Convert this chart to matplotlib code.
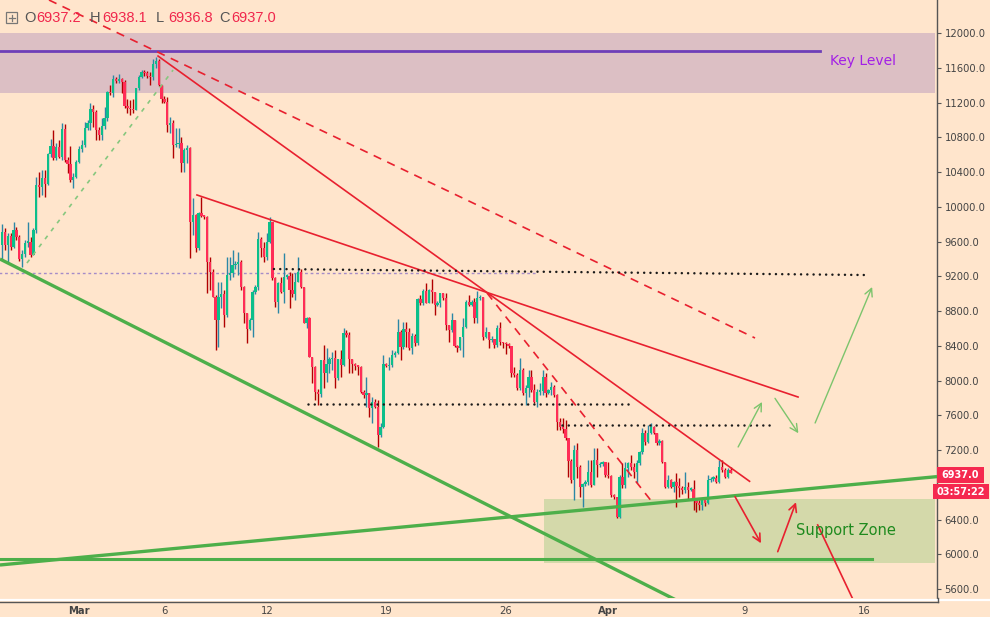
import matplotlib
matplotlib.use('Agg')
import matplotlib.pyplot as plt
import numpy as np
from matplotlib.patches import Rectangle
from matplotlib.lines import Line2D

# ---------------- data (4h candles, BTC, from Feb 24 12:00) ----------------
first_open = 9560
closes = [
 9713, 9560, 9663, 9540, 9732, 9655, 9395, 9456, 9586, 9598, 9444, 9732, 10250, 10231, 10327, 10262,
 10607, 10699, 10557, 10684, 10569, 10891, 10538, 10492, 10308, 10346, 10519, 10661, 10711, 10902,
 10960, 11121, 11094, 10883, 10826, 10930, 11018, 11324, 11305, 11470, 11450, 11470, 11440, 11160,
 11133, 11120, 11110, 11363, 11497, 11555, 11535, 11510, 11490, 11643, 11680, 11401, 11236,
 11210, 10941, 10968, 10711, 10722, 10730, 10500, 10653, 10672, 9828, 9905, 9521, 9924, 9893, 9885,
 9368, 9253, 8965, 8696, 8957, 9000, 8754, 9214, 9233, 9329, 9340, 9368, 9080, 8773, 8589, 8696,
 9022, 9072, 9625, 9521, 9425, 9598, 9820, 9176, 8907, 9118, 9022, 9195, 9203, 9041, 9000, 9138,
 9253, 9080, 8658, 8715, 8274, 8159,
 7871, 7850, 8236, 8082, 8190, 8244, 8260, 8025, 8244, 8180, 8543, 8524, 8244, 8190, 8167, 8159,
 7871, 7833, 7855, 7680, 7756, 7700, 7373, 7468, 8190, 8167, 8180, 8294, 8320, 8562, 8382, 8589,
 8562, 8370, 8512, 8428, 8934, 8888, 9030, 8896, 9042, 9022, 8869, 8896, 9003, 8946, 8639, 8581,
 8696, 8397, 8370, 8497, 8620, 8907,
 8869, 8907, 8716, 8946, 8960, 8505, 8562, 8466, 8480, 8409, 8601, 8447, 8428, 8420, 8397, 8090,
 8063, 7910, 8121, 7852, 7910, 8044, 7891, 7756, 7870, 7880, 8036, 7852, 7891, 7929, 7833, 7527,
 7469, 7440, 7335, 7074, 6855, 7200, 7009, 6778, 6809, 6836, 6951, 6798, 7085, 7028, 7040, 7066,
 6913, 6901, 6682, 6663, 6433, 6893, 6798, 6989, 7047, 7009, 6951, 7047, 7181, 7392, 7296, 7392,
 7469, 7400, 7277, 7310, 7066, 6778, 6855, 6778, 6836, 6790, 6760, 6740, 6770, 6745, 6750, 6625,
 6587, 6567, 6625, 6587, 6855, 6870, 6880, 6836, 7009, 6970, 6893, 6970, 6937]
highs = [
 9800, 9751, 9694, 9694, 9828, 9770, 9680, 9502, 9617, 9820, 9655, 9751, 10346, 10404, 10423, 10423,
 10615, 10776, 10883, 10730, 10768, 10968, 10950, 10577, 10700, 10385, 10538, 10699, 10768, 10979,
 11000, 11190, 11170, 11113, 10922, 11018, 11152, 11330, 11401, 11516, 11490, 11530, 11480, 11460,
 11236, 11228, 11236, 11365, 11516, 11574, 11580, 11560, 11555, 11700, 11720, 11700, 11401,
 11270, 11267, 11037, 11000, 10902, 10902, 10806, 10672, 10711, 10684, 10097, 9920, 9940, 10116, 9910,
 9890, 9425, 9290, 8980, 9138, 9138, 9041, 9425, 9425, 9502, 9380, 9483, 9385, 9088, 8773, 8715,
 9041, 9100, 9713, 9655, 9598, 9694, 9885, 9828, 9195, 9138, 9195, 9470, 9230, 9253, 9233, 9233,
 9425, 9290, 9080, 8735, 8735, 8275,
 8170, 7900, 8240, 8408, 8370, 8275, 8332, 8350, 8250, 8350, 8600, 8581, 8562, 8250, 8200, 8180,
 8167, 7890, 8044, 7860, 7814, 7790, 7775, 7507, 8294, 8198, 8274, 8350, 8340, 8704, 8581, 8677,
 8677, 8600, 8543, 8540, 8946, 8984, 9050, 9118, 9050, 9164, 9022, 8920, 9010, 9010, 9003, 8639,
 8773, 8696, 8410, 8505, 8716, 8930,
 8984, 8930, 8946, 9034, 8990, 8960, 8620, 8562, 8510, 8480, 8640, 8677, 8447, 8447, 8428, 8397,
 8160, 8082, 8255, 8140, 7950, 8121, 8121, 7960, 7900, 7967, 8121, 8082, 7900, 7987, 7950, 7850,
 7565, 7565, 7546, 7335, 7100, 7258, 7277, 7030, 6820, 6860, 7085, 7085, 7220, 7220, 7060, 7080,
 7066, 7066, 6913, 6690, 6663, 6913, 7047, 7066, 7066, 7143, 7047, 7085, 7190, 7450, 7430, 7488,
 7507, 7480, 7400, 7330, 7316, 7066, 6913, 6870, 6850, 6932, 6874, 6790, 6951, 6836, 6780, 6855,
 6644, 6625, 6644, 6630, 6913, 6890, 6900, 6913, 7085, 7085, 6995, 6989, 7009]
lows = [
 9405, 9502, 9349, 9502, 9521, 9617, 9380, 9310, 9425, 9540, 9425, 9444, 9700, 10116, 10135, 10116,
 10250, 10577, 10538, 10538, 10557, 10538, 10520, 10385, 10289, 10212, 10327, 10500, 10630, 10684,
 10880, 10883, 10922, 10768, 10768, 10768, 10900, 10990, 11286, 11260, 11430, 11420, 11305, 11133,
 11075, 11056, 11075, 11113, 11350, 11480, 11500, 11480, 11401, 11460, 11600, 11390, 11190,
 11190, 10864, 10845, 10557, 10692, 10672, 10404, 10404, 10500, 9406, 9675, 9480, 9500, 9886, 9860,
 9003, 9041, 8965, 8351, 8390, 8830, 8620, 8735, 9157, 9195, 9290, 9214, 9041, 8658, 8428, 8581,
 8504, 9000, 9041, 9425, 9368, 9387, 9579, 9157, 8850, 8773, 9003, 8888, 9170, 8830, 8965, 8926,
 9130, 9060, 8658, 8600, 8274, 7967,
 7775, 7720, 7810, 7910, 7987, 8082, 8120, 7910, 8006, 8044, 8170, 8504, 8082, 8082, 8120, 8063,
 7860, 7795, 7700, 7584, 7507, 7680, 7238, 7353, 7450, 8160, 8120, 8160, 8270, 8310, 8236, 8360,
 8390, 8350, 8310, 8400, 8410, 8869, 8869, 8888, 8888, 8888, 8754, 8860, 8850, 8930, 8581, 8447,
 8562, 8390, 8332, 8350, 8275, 8600,
 8860, 8860, 8658, 8658, 8930, 8466, 8485, 8370, 8440, 8370, 8390, 8409, 8370, 8310, 8380, 8044,
 8044, 7891, 7891, 7830, 7718, 7814, 7872, 7737, 7700, 7833, 7833, 7814, 7840, 7833, 7814, 7430,
 7430, 7400, 7316, 6893, 6820, 6625, 6874, 6663, 6548, 6790, 6800, 6778, 6798, 6893, 7000, 7020,
 6893, 6874, 6663, 6640, 6420, 6414, 6759, 6759, 6893, 6970, 6874, 6817, 7028, 7160, 7258, 7277,
 7380, 7380, 7258, 7260, 7047, 6759, 6759, 6760, 6720, 6548, 6663, 6700, 6701, 6625, 6730, 6510,
 6490, 6510, 6510, 6560, 6580, 6830, 6850, 6817, 6817, 6950, 6874, 6874, 6932]
start_day = -4.5          # days from Mar 1 00:00 of the first candle
candle_hours = 4

# price axis (6800 label is covered by the last-price tags in the reference)
price_ticks = list(range(5600, 12001, 400))
hidden_tick = 6800
# date axis (days from Mar 1)
date_ticks = [0, 5, 11, 18, 25, 31, 39, 46]
date_labels = ['Mar', '6', '12', '19', '26', 'Apr', '9', '16']

# drawings (day, price)
key_band = (-4.7, 50.15, 11310, 12000)
key_line = ([-4.7, 43.41], [11793, 11793])
support_zone = (27.24, 50.15, 5905, 6634)
green_down = ([-4.63, 36.0], [9399, 5373])
green_up = ([-4.63, 50.26], [5878, 6895])
green_flat = ([-4.7, 46.46], [5947, 5947])
green_dash = ([-3.05, 5.51], [9353, 11574])
red_line1 = ([4.63, 39.28], [11735, 6841])
red_line2 = ([6.91, 42.12], [10136, 7811])
red_dash1 = ([-1.76, 39.6], [12380, 8490])
red_dash2 = ([23.9, 33.57], [9008, 6603])
dot1 = ([11.42, 46.1], [9284, 9215])
dot2 = ([13.42, 32.28], [7725, 7725])
dot3 = ([28.3, 40.54], [7489, 7489])
purple_dot = ([-4.7, 26.83], [9238, 9238])
green_arrows = [((38.61, 7236), (40.01, 7754)), ((40.77, 7796), (42.14, 7394)), ((43.12, 7512), (46.46, 9077))]
red_arrows = [((38.43, 6664), (39.95, 6128)), ((40.93, 6031), (42.0, 6600))]
red_tail = ([43.27, 45.63], [6339, 5360])

ohlc_text = [('O', '6937.2'), ('H', '6938.1'), ('L', '6936.8'), ('C', '6937.0')]
last_price = '6937.0'
countdown = '03:57:22'

# ---------------- styling ----------------
W, H = 990, 617
BG = '#FFE5CC'
UP, UPW = '#0CBF8A', '#2B87A6'
DN, DNW = '#FF2D57', '#B00000'
RED = '#E8202F'
GREEN = '#4DAF4A'

fig = plt.figure(figsize=(W / 100, H / 100), dpi=100)
fig.patch.set_facecolor(BG)
PANE_B = 598
ax = fig.add_axes([0, (H - PANE_B) / H, 937 / W, PANE_B / H])
ax.set_facecolor(BG)
ax.set_xlim(-4.628, 50.26)
ax.set_ylim(5498, 12380)

# zones
ax.add_patch(Rectangle((key_band[0], key_band[2]), key_band[1] - key_band[0], key_band[3] - key_band[2],
                       facecolor='#DCBFC4', edgecolor='none', zorder=1))
ax.add_patch(Rectangle((support_zone[0], support_zone[2]), support_zone[1] - support_zone[0],
                       support_zone[3] - support_zone[2], facecolor='#D4D9AA', edgecolor='none', zorder=1))

# candles
closes = np.array(closes, float)
highs = np.array(highs, float)
lows = np.array(lows, float)
opens = np.concatenate([[first_open], closes[:-1]])
highs = np.maximum(highs, np.maximum(opens, closes))
lows = np.minimum(lows, np.minimum(opens, closes))
t = start_day + np.arange(len(closes)) * candle_hours / 24.0
up = closes >= opens
ax.vlines(t[up], lows[up], highs[up], colors=UPW, lw=1.0, zorder=3)
ax.vlines(t[~up], lows[~up], highs[~up], colors=DNW, lw=1.0, zorder=3)
body_b = np.minimum(opens, closes)
body_h = np.maximum(np.abs(closes - opens), 16)
ax.bar(t[up], body_h[up], width=0.135, bottom=body_b[up], color=UP, linewidth=0, zorder=4)
ax.bar(t[~up], body_h[~up], width=0.135, bottom=body_b[~up], color=DN, linewidth=0, zorder=4)

# lines
ax.plot(*purple_dot, color='#A58CC8', lw=1.0, ls=(0, (2, 2)), zorder=2)
ax.plot(*key_line, color='#6E3FB8', lw=2.0, zorder=5)
ax.plot(*green_down, color=GREEN, lw=2.4, zorder=5, solid_capstyle='butt')
ax.plot(*green_up, color=GREEN, lw=2.4, zorder=5, solid_capstyle='butt')
ax.plot(*green_flat, color=GREEN, lw=2.2, zorder=5)
ax.plot(*green_dash, color='#86C77E', lw=1.2, ls=(0, (2.5, 3.5)), zorder=5)
ax.plot(*red_line1, color=RED, lw=1.2, zorder=5)
ax.plot(*red_line2, color=RED, lw=1.2, zorder=5)
ax.plot(*red_dash1, color=RED, lw=1.2, ls=(0, (5, 4)), zorder=5)
ax.plot(*red_dash2, color=RED, lw=1.2, ls=(0, (5, 4)), zorder=5)
for d in (dot1, dot2, dot3):
    ax.plot(*d, color='#1A1A1A', lw=1.8, ls=(0, (0.01, 2.5)), dash_capstyle='round', zorder=5)

for s, e in green_arrows:
    ax.annotate('', xy=e, xytext=s, arrowprops=dict(arrowstyle='->,head_length=0.55,head_width=0.28',
                color='#7CC46C', lw=1.0, shrinkA=0, shrinkB=0), zorder=6)
for s, e in red_arrows:
    ax.annotate('', xy=e, xytext=s, arrowprops=dict(arrowstyle='->,head_length=0.55,head_width=0.28',
                color=RED, lw=1.2, shrinkA=0, shrinkB=0), zorder=6)
ax.plot(*red_tail, color=RED, lw=1.2, zorder=6)

# axes styling
for sp in ('top', 'left', 'bottom'):
    ax.spines[sp].set_visible(False)
ax.spines['right'].set_color('#555555')
ax.spines['right'].set_linewidth(1.0)
ax.yaxis.tick_right()
ax.set_yticks(price_ticks)
ax.set_yticklabels(['' if v == hidden_tick else f'{v:.1f}' for v in price_ticks])
ax.tick_params(axis='y', direction='out', length=3, width=0.8, color='#555555',
               labelsize=7.2, labelcolor='#444444', pad=2.5)
ax.set_xticks(date_ticks)
ax.set_xticklabels(date_labels)
ax.tick_params(axis='x', length=0, labelsize=7.2, labelcolor='#444444', pad=5.5)
for lab in ax.get_xticklabels():
    if lab.get_text() in ('Mar', 'Apr'):
        lab.set_fontweight('bold')


def fx(x):
    return x / W


def fy(y):
    return 1 - y / H


# separator and date-axis line
fig.add_artist(Line2D([0, 1], [fy(599.5), fy(599.5)], color='white', lw=1.6))
fig.add_artist(Line2D([0, fx(937.5)], [fy(602), fy(602)], color='#555555', lw=1.0))
fig.add_artist(Line2D([fx(937.5), fx(937.5)], [fy(598), fy(602)], color='#555555', lw=1.0))

# texts on chart
fig.text(fx(863), fy(61), 'Key Level', ha='center', va='center', color='#A21FE6', fontsize=10)
fig.text(fx(846), fy(530), 'Support Zone', ha='center', va='center', color='#1E8A1E', fontsize=10.5)

# OHLC legend
fig.add_artist(Rectangle((fx(6), fy(23)), 11 / W, 11 / H, transform=fig.transFigure,
                         fill=False, edgecolor='#777777', lw=0.9))
fig.add_artist(Line2D([fx(8.5), fx(14.5)], [fy(17.5), fy(17.5)], color='#777777', lw=0.9))
fig.add_artist(Line2D([fx(11.5), fx(11.5)], [fy(14.5), fy(20.5)], color='#777777', lw=0.9))
xs = [24, 90, 156, 219]
for (k, v), x in zip(ohlc_text, xs):
    fig.text(fx(x), fy(18), k, ha='left', va='center', color='#555555', fontsize=10.5,
             family='Liberation Sans')
    fig.text(fx(x + 12), fy(18), v, ha='left', va='center', color='#F0264C', fontsize=10.5,
             family='Liberation Sans')

# last price labels
fig.add_artist(Rectangle((fx(937), fy(483)), 47 / W, 16 / H, transform=fig.transFigure,
                         facecolor='#F5294F', edgecolor='none'))
fig.text(fx(960), fy(474.5), last_price, ha='center', va='center', color='white', fontsize=7, fontweight='bold')
fig.add_artist(Rectangle((fx(933), fy(499)), 56 / W, 15 / H, transform=fig.transFigure,
                         facecolor='#F5294F', edgecolor='none'))
fig.text(fx(961), fy(492), countdown, ha='center', va='center', color='white', fontsize=7, fontweight='bold')

fig.savefig('out.png', dpi=100, facecolor=BG)
